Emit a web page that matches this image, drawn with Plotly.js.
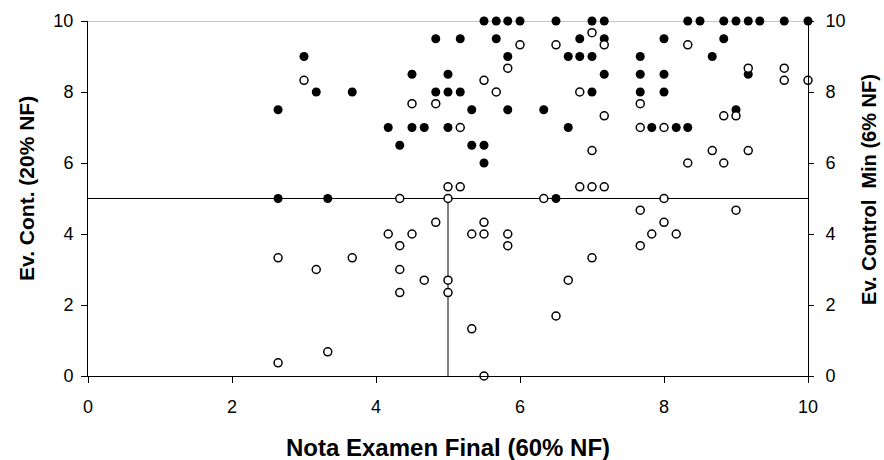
<!DOCTYPE html>
<html>
<head>
<meta charset="utf-8">
<script src="https://cdn.plot.ly/plotly-3.0.1.min.js"></script>
<style>
  html, body { margin: 0; padding: 0; background: #ffffff; }
  #chart { width: 884px; height: 460px; }
</style>
</head>
<body>
<div id="chart"></div>
<script>
// Continuous assessment grade (left axis, filled dots) vs final exam grade
const contX = [2.64, 2.64, 3, 3.17, 3.33, 3.67, 4.17, 4.33, 4.5, 4.5, 4.67, 4.83, 4.83, 5, 5, 5,
  5.17, 5.17, 5.33, 5.33, 5.5, 5.5, 5.5, 5.67, 5.67, 5.83, 5.83, 5.83, 6, 6.33, 6.5, 6.5,
  6.67, 6.67, 6.83, 6.83, 7, 7, 7, 7.17, 7.17, 7.17, 7.67, 7.67, 7.67, 7.83, 8, 8, 8, 8.17,
  8.33, 8.33, 8.5, 8.67, 8.83, 8.83, 9, 9, 9.17, 9.17, 9.33, 9.67, 10];
const contY = [7.5, 5, 9, 8, 5, 8, 7, 6.5, 8.5, 7, 7, 9.5, 8, 8.5, 8, 7,
  9.5, 8, 7.5, 6.5, 10, 6.5, 6, 10, 9.5, 10, 9, 7.5, 10, 7.5, 10, 5,
  9, 7, 9.5, 9, 10, 9, 8, 10, 9.5, 8.5, 9, 8.5, 8, 7, 9.5, 8.5, 8, 7,
  10, 7, 10, 9, 10, 9.5, 10, 7.5, 10, 8.5, 10, 10, 10];

// Minute-test grade (right axis, open circles) vs final exam grade
const minX = [2.64, 2.64, 3, 3.17, 3.33, 3.67, 4.17, 4.33, 4.33, 4.33, 4.33, 4.5, 4.5, 4.67,
  4.83, 4.83, 5, 5, 5, 5, 5.17, 5.17, 5.33, 5.33, 5.5, 5.5, 5.5, 5.5, 5.67, 5.83, 5.83, 5.83,
  6, 6.33, 6.5, 6.5, 6.67, 6.83, 6.83, 7, 7, 7, 7, 7.17, 7.17, 7.17, 7.67, 7.67, 7.67, 7.67,
  7.83, 8, 8, 8, 8.17, 8.33, 8.33, 8.67, 8.83, 8.83, 9, 9, 9.17, 9.17, 9.67, 9.67, 10];
const minY = [3.33, 0.37, 8.33, 3, 0.68, 3.33, 4, 5, 3.67, 3, 2.35, 7.67, 4, 2.7,
  7.67, 4.33, 5.33, 5, 2.7, 2.35, 7, 5.33, 4, 1.33, 8.33, 4.33, 4, 0, 8, 8.67, 4, 3.67,
  9.33, 5, 9.33, 1.69, 2.7, 8, 5.33, 9.67, 6.35, 5.33, 3.33, 9.33, 7.33, 5.33, 7.67, 7, 4.67, 3.67,
  4, 7, 5, 4.33, 4, 9.33, 6, 6.35, 7.33, 6, 7.33, 4.67, 8.67, 6.35, 8.67, 8.33, 8.33];

// Axis ticks and the pass mark reference
const tickVals = [0, 2, 4, 6, 8, 10];
const tickText = ['0', '2', '4', '6', '8', '10'];
const passMark = 5;
const gradeMax = 10;

const fontFamily = '"Liberation Sans", Arial, sans-serif';

const traces = [
  {
    x: contX, y: contY, type: 'scatter', mode: 'markers', name: 'Ev. Cont.',
    yaxis: 'y', cliponaxis: false,
    marker: { symbol: 'circle', size: 9, color: '#000000', line: { width: 0 } }
  },
  {
    x: minX, y: minY, type: 'scatter', mode: 'markers', name: 'Ev. Control Min',
    yaxis: 'y2', cliponaxis: false,
    marker: { symbol: 'circle', size: 8, color: '#ffffff', line: { color: '#000000', width: 1.5 } }
  }
];

const axisCommon = {
  range: [0, gradeMax], tickmode: 'array', tickvals: tickVals, ticktext: tickText,
  ticks: 'outside', ticklen: 6, tickwidth: 1, tickcolor: '#000000',
  showline: true, linecolor: '#000000', linewidth: 1,
  showgrid: false, zeroline: false, fixedrange: true,
  tickfont: { family: fontFamily, size: 18, color: '#000000' }
};

const layout = {
  width: 884, height: 460,
  margin: { l: 88, r: 76, t: 21, b: 84 },
  paper_bgcolor: '#ffffff', plot_bgcolor: '#ffffff',
  showlegend: false,
  xaxis: Object.assign({}, axisCommon, { ticklabelstandoff: 8 }),
  yaxis: Object.assign({}, axisCommon, { ticklabelstandoff: 4 }),
  yaxis2: Object.assign({}, axisCommon, { overlaying: 'y', side: 'right', ticklen: 5, ticklabelstandoff: 8 }),
  shapes: [
    // top frame line
    { type: 'line', xref: 'x', yref: 'y', x0: 0, x1: gradeMax, y0: gradeMax, y1: gradeMax,
      line: { color: '#8c8c8c', width: 1 }, layer: 'below' },
    // pass mark: horizontal across, vertical from 0 up to the pass mark
    { type: 'line', xref: 'x', yref: 'y', x0: 0, x1: gradeMax, y0: passMark, y1: passMark,
      line: { color: '#000000', width: 1 }, layer: 'below' },
    { type: 'line', xref: 'x', yref: 'y', x0: passMark, x1: passMark, y0: 0, y1: passMark,
      line: { color: '#000000', width: 1 }, layer: 'below' }
  ],
  annotations: [
    { text: 'Nota Examen Final (60% NF)', xref: 'paper', yref: 'paper', x: 0.5, y: -0.2,
      xanchor: 'center', yanchor: 'middle', showarrow: false,
      font: { family: fontFamily, size: 24, color: '#000000', weight: 'bold' } },
    { text: 'Ev. Cont. (20% NF)', xref: 'paper', yref: 'paper', x: -0.0847, y: 0.527,
      xanchor: 'center', yanchor: 'middle', showarrow: false, textangle: -90,
      font: { family: fontFamily, size: 21, color: '#000000', weight: 'bold' } },
    { text: 'Ev. Control  Min (6% NF)', xref: 'paper', yref: 'paper', x: 1.0847, y: 0.527,
      xanchor: 'center', yanchor: 'middle', showarrow: false, textangle: -90,
      font: { family: fontFamily, size: 20, color: '#000000', weight: 'bold' } }
  ]
};

Plotly.newPlot('chart', traces, layout, { displayModeBar: false, staticPlot: true });
</script>
</body>
</html>
